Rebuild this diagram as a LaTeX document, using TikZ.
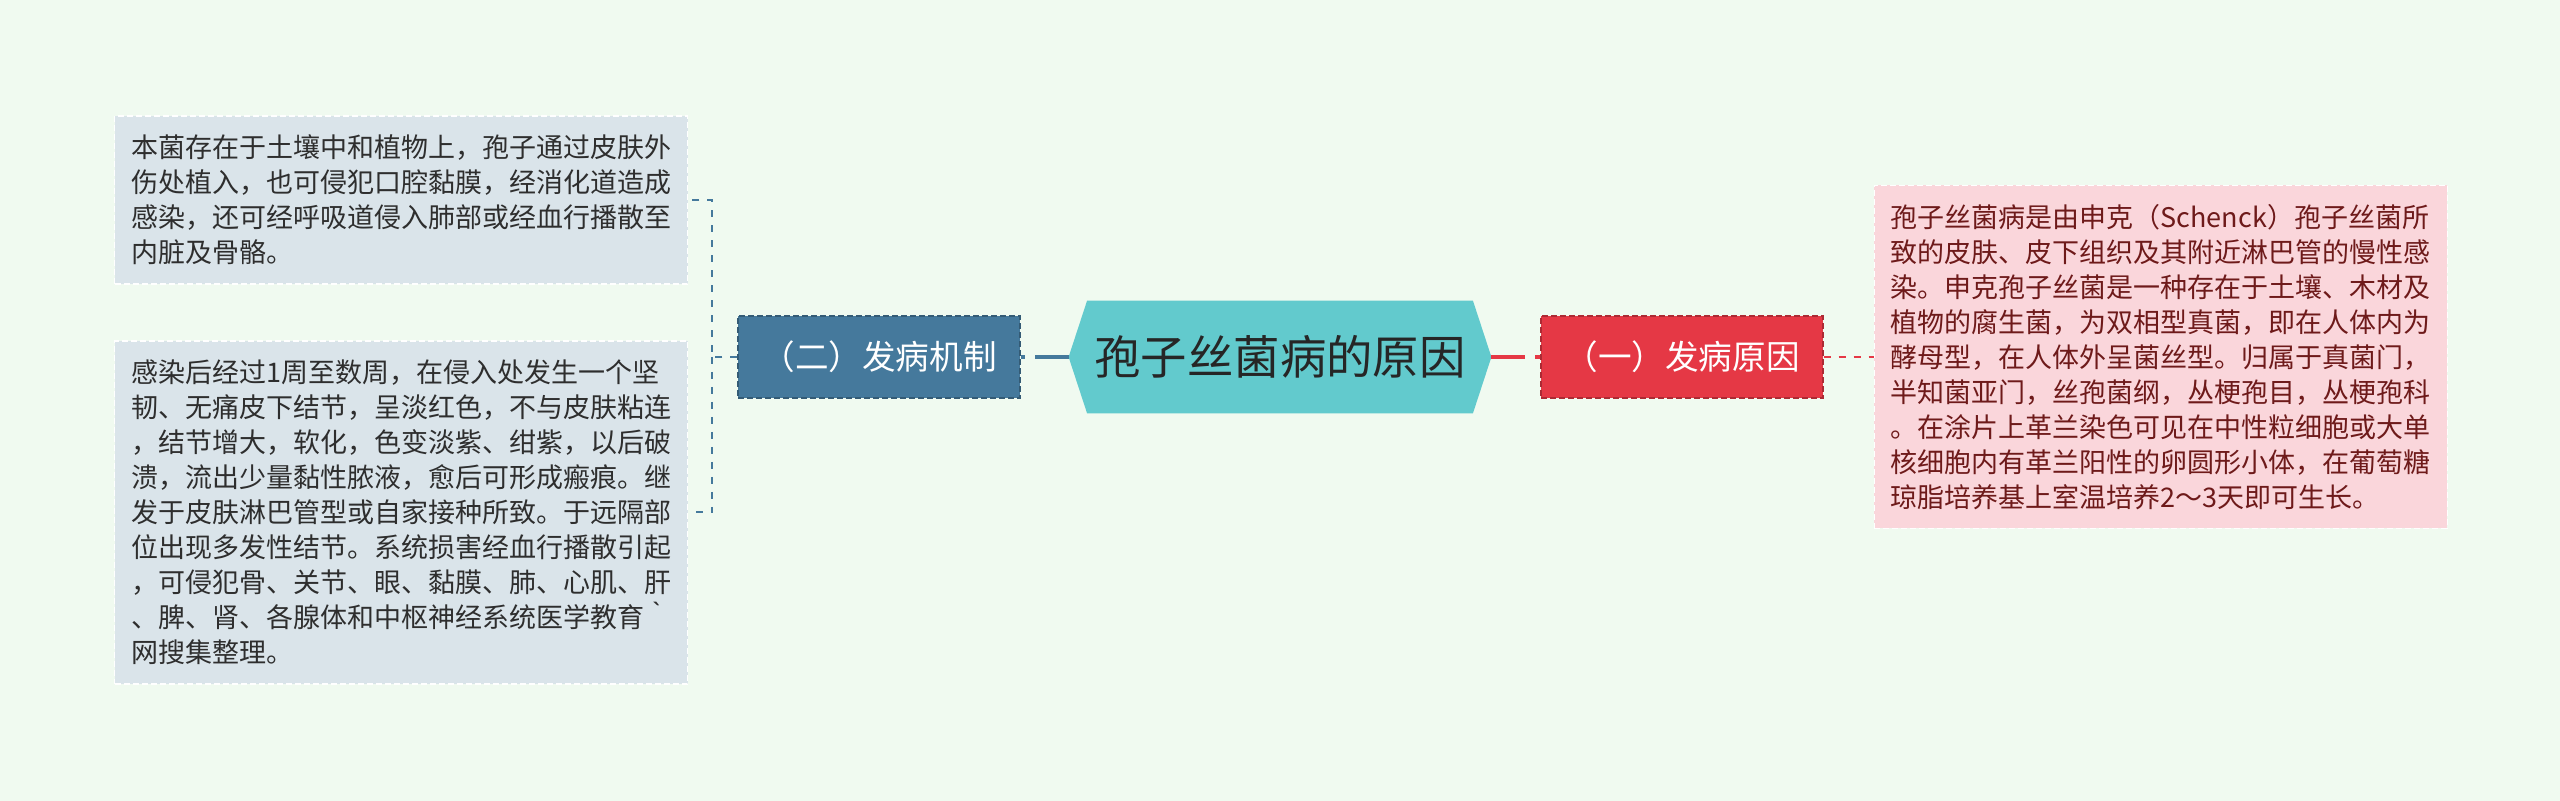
\documentclass[tikz,border=0pt]{standalone}
\usepackage{fontspec}
\setmainfont{Noto Sans CJK SC}
\usetikzlibrary{positioning,backgrounds}

\definecolor{bgcol}{HTML}{F0FAF0}
\definecolor{mechcol}{HTML}{45799C}
\definecolor{causecol}{HTML}{E53845}
\definecolor{rootcol}{HTML}{62CACD}
\definecolor{leafblue}{HTML}{DAE4EA}
\definecolor{leafpink}{HTML}{FAD6DB}
\definecolor{leafred}{HTML}{6E1A1A}

\tikzset{
  leaf/.style={rectangle, align=left, inner sep=0pt, minimum width=286.5pt,
    font=\fontsize{13.5}{17.5}\selectfont, draw=white, line width=0.6pt,
    dash pattern=on 3pt off 1.5pt},
  leafm/.style={leaf, fill=leafblue, text=black!82},
  leafc/.style={leaf, fill=leafpink, text=leafred},
  branch/.style={rectangle, minimum width=141pt, minimum height=41pt, inner sep=0pt,
    text=white, font=\fontsize{16.8}{20}\selectfont, line width=0.6pt,
    dash pattern=on 3pt off 1.5pt},
  rootnode/.style={rectangle, minimum width=211pt, minimum height=56pt, inner sep=0pt,
    text=black!85, font=\fontsize{23.2}{28}\selectfont},
  thickedge/.style={line width=1.75pt, dash pattern=on 17pt off 5pt},
  thinedge/.style={line width=1pt, dash pattern=on 3.5pt off 4pt},
}

\begin{document}
\begin{tikzpicture}

    \node[rootnode] (root) at (640pt,-178.5pt) {孢子丝菌病的原因};
    \node[branch, fill=mechcol, draw=mechcol!75!black, left=24pt of root] (mech) {（二）发病机制};
    \node[branch, fill=causecol, draw=causecol!75!black, right=24.5pt of root] (cause) {（一）发病原因};

    \node[leafc, minimum height=171.5pt, right=25pt of cause] (cause-t) {%
      孢子丝菌病是由申克（Schenck）孢子丝菌所\\
      致的皮肤、皮下组织及其附近淋巴管的慢性感\\
      染。申克孢子丝菌是一种存在于土壤、木材及\\
      植物的腐生菌，为双相型真菌，即在人体内为\\
      酵母型，在人体外呈菌丝型。归属于真菌门，\\
      半知菌亚门，丝孢菌纲，丛梗孢目，丛梗孢科\\
      。在涂片上革兰染色可见在中性粒细胞或大单\\
      核细胞内有革兰阳性的卵圆形小体，在葡萄糖\\
      琼脂培养基上室温培养2～3天即可生长。};
    \node[leafm, minimum height=84pt, left=24.5pt of mech, yshift=78.5pt] (mech-a) {%
      本菌存在于土壤中和植物上，孢子通过皮肤外\\
      伤处植入，也可侵犯口腔黏膜，经消化道造成\\
      感染，还可经呼吸道侵入肺部或经血行播散至\\
      内脏及骨骼。};
    \node[leafm, minimum height=171.5pt, left=24.5pt of mech, yshift=-77.75pt] (mech-b) {%
      感染后经过1周至数周，在侵入处发生一个坚\\
      韧、无痛皮下结节，呈淡红色，不与皮肤粘连\\
      ，结节增大，软化，色变淡紫、绀紫，以后破\\
      溃，流出少量黏性脓液，愈后可形成瘢痕。继\\
      发于皮肤淋巴管型或自家接种所致。于远隔部\\
      位出现多发性结节。系统损害经血行播散引起\\
      ，可侵犯骨、关节、眼、黏膜、肺、心肌、肝\\
      、脾、肾、各腺体和中枢神经系统医学教育｀\\
      网搜集整理。};
    \coordinate[left=12.5pt of mech] (mech-j);

    \draw[thickedge, mechcol] (root) -- (mech); %
    \draw[thickedge, causecol] (root) -- (cause); %
    \draw[thinedge, mechcol] (mech) -- (mech-j) |- (mech-a); %
    \draw[thinedge, mechcol] (mech-j) |- (mech-b); %
    \draw[thinedge, causecol, line width=0.8pt] (cause) -- (cause-t); %

    \begin{scope}[on background layer]
      \fill[bgcol] (0,0) rectangle (1280pt,-400.5pt);
      \fill[rootcol] ([xshift=9.25pt]root.north west) -- ([xshift=-9.25pt]root.north east)
        -- (root.east) -- ([xshift=-9.25pt]root.south east)
        -- ([xshift=9.25pt]root.south west) -- (root.west) -- cycle;
    \end{scope}

\end{tikzpicture}
\end{document}
